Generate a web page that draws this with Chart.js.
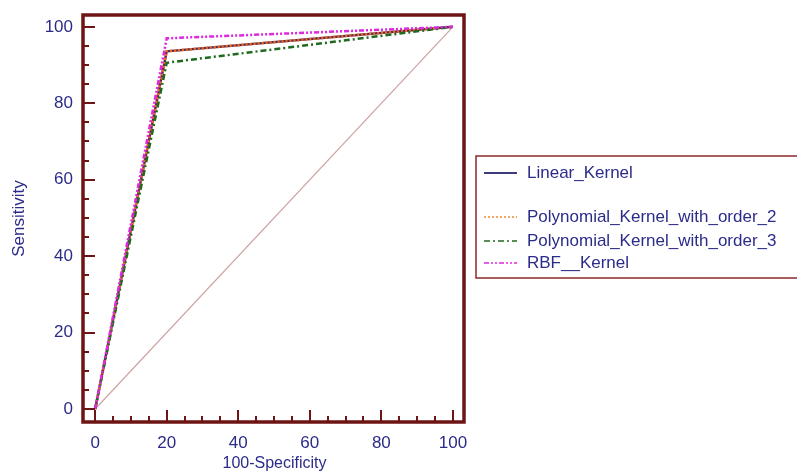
<!DOCTYPE html>
<html>
<head>
<meta charset="utf-8">
<script src="https://cdn.jsdelivr.net/npm/chart.js@4/dist/chart.umd.min.js"></script>
<style>
  html, body { margin: 0; padding: 0; background: #fff; }
  #wrap { width: 797px; height: 473px; position: relative; }
</style>
</head>
<body>
<div id="wrap"><canvas id="roc" width="797" height="473"></canvas></div>
<script>
const seriesNames = ["Linear_Kernel", "Polynomial_Kernel_with_order_2", "Polynomial_Kernel_with_order_3", "RBF__Kernel"];
const fprPoints = [0, 20, 100];
const linearTpr = [0, 93.6, 100];
const poly2Tpr = [0, 93.6, 100];
const poly3Tpr = [0, 90.6, 100];
const rbfTpr = [0, 97.0, 100];
const diagX = [0, 100];
const diagY = [0, 100];
const xTickLabels = [0, 20, 40, 60, 80, 100];
const yTickLabels = [0, 20, 40, 60, 80, 100];
const minorStep = 5;

const FRAME = "#6e1414";
const NAVY = "#2b2b8a";
const FONT = "'Liberation Sans', Arial, sans-serif";

function pts(xs, ys) { return xs.map((x, i) => ({ x: x, y: ys[i] })); }

// order: lower number is drawn on top
const styles = [
  { color: "#5a2a50", dash: [], width: 2.5, order: 4 },
  { color: "#f06a20", dash: [2, 2], width: 2.5, order: 3 },
  { color: "#1f6a1f", dash: [6, 3, 2, 3], width: 2.5, order: 2 },
  { color: "#e028e0", dash: [5, 2, 2, 2, 2, 2], width: 2.5, order: 1 },
];
const tprs = [linearTpr, poly2Tpr, poly3Tpr, rbfTpr];

const datasets = [{
  label: "diag",
  data: pts(diagX, diagY),
  borderColor: "#cda3a3",
  borderWidth: 1.2,
  pointRadius: 0,
  fill: false,
  order: 10,
}].concat(seriesNames.map((n, i) => ({
  label: n,
  data: pts(fprPoints, tprs[i]),
  borderColor: styles[i].color,
  borderDash: styles[i].dash,
  borderWidth: styles[i].width,
  pointRadius: 0,
  fill: false,
  tension: 0,
  order: styles[i].order,
})));

const framePlugin = {
  id: "frame",
  afterDraw(chart) {
    const ctx = chart.ctx, a = chart.chartArea;
    const xs = chart.scales.x, ys = chart.scales.y;
    ctx.save();
    // minor and major ticks, inside the frame
    ctx.strokeStyle = FRAME;
    ctx.lineWidth = 2;
    for (let v = 0; v <= 100; v += minorStep) {
      const major = v % 20 === 0;
      const len = major ? 12 : 6;
      const px = Math.round(xs.getPixelForValue(v));
      ctx.beginPath(); ctx.moveTo(px, a.bottom); ctx.lineTo(px, a.bottom - len); ctx.stroke();
      const py = Math.round(ys.getPixelForValue(v));
      ctx.beginPath(); ctx.moveTo(a.left, py); ctx.lineTo(a.left + len, py); ctx.stroke();
    }
    ctx.lineWidth = 3.5;
    ctx.strokeRect(a.left, a.top, a.right - a.left, a.bottom - a.top);
    // axis titles
    ctx.fillStyle = NAVY;
    ctx.font = "16px " + FONT;
    ctx.textAlign = "center";
    ctx.textBaseline = "middle";
    ctx.fillText("100-Specificity", (a.left + a.right) / 2 + 1, 464);
    ctx.translate(19, (a.top + a.bottom) / 2);
    ctx.rotate(-Math.PI / 2);
    ctx.font = "17px " + FONT;
    ctx.fillText("Sensitivity", 0, 0);
    ctx.restore();

    // legend
    ctx.save();
    ctx.strokeStyle = "#8c2a2a";
    ctx.lineWidth = 1.5;
    ctx.strokeRect(476, 156, 330, 122);
    const rows = [173, 217, 241, 263];
    const legendColors = ["#3c3c7c", "#f08a2c", "#1f6a1f", "#e028e0"];
    ctx.font = "17px " + FONT;
    ctx.textAlign = "left";
    ctx.textBaseline = "middle";
    seriesNames.forEach((n, i) => {
      ctx.strokeStyle = legendColors[i];
      ctx.setLineDash(styles[i].dash);
      ctx.lineWidth = i === 0 ? 2 : 1.5;
      ctx.beginPath(); ctx.moveTo(484, rows[i]); ctx.lineTo(517, rows[i]); ctx.stroke();
      ctx.setLineDash([]);
      ctx.fillStyle = NAVY;
      ctx.fillText(n, 527, rows[i]);
    });
    ctx.restore();
  },
};

new Chart(document.getElementById("roc"), {
  type: "line",
  data: { datasets: datasets },
  options: {
    responsive: false,
    animation: false,
    layout: { padding: { top: 15, right: 333, left: 0, bottom: 0 } },
    plugins: { legend: { display: false }, tooltip: { enabled: false } },
    scales: {
      x: {
        type: "linear",
        min: -3.4,
        max: 103.1,
        grid: { display: false },
        border: { display: false },
        afterBuildTicks: (s) => { s.ticks = xTickLabels.map((v) => ({ value: v })); },
        afterFit: (s) => { s.height = 51; },
        ticks: {
          color: NAVY,
          font: { size: 17, family: FONT },
          padding: 3,
          maxRotation: 0,
        },
      },
      y: {
        type: "linear",
        min: -3.4,
        max: 103.1,
        grid: { display: false },
        border: { display: false },
        afterBuildTicks: (s) => { s.ticks = yTickLabels.map((v) => ({ value: v })); },
        afterFit: (s) => { s.width = 83; },
        ticks: {
          color: NAVY,
          font: { size: 17, family: FONT },
          padding: 2,
        },
      },
    },
  },
  plugins: [framePlugin],
});
</script>
</body>
</html>
